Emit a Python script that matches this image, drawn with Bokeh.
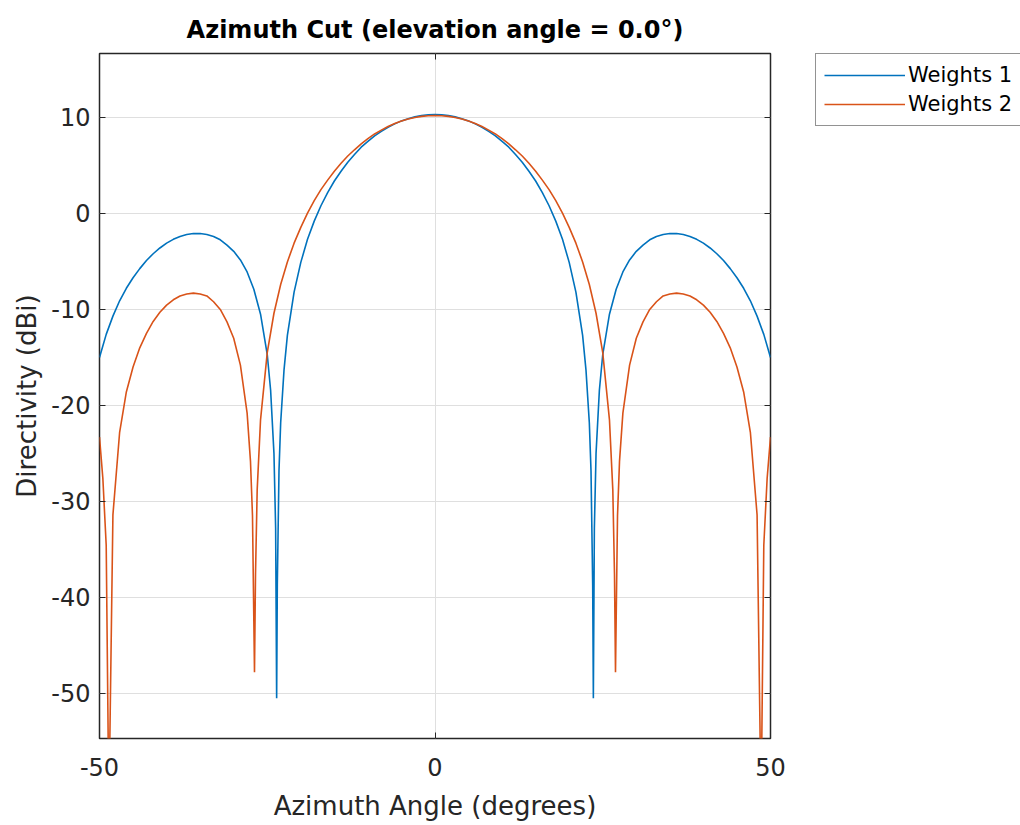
from bokeh.plotting import figure
from bokeh.layouts import row
from bokeh.models import (Range1d, FixedTicker, LinearAxis, Legend, LegendItem,
                          PrintfTickFormatter)
from bokeh.embed import file_html
from bokeh.resources import INLINE

# ---------------- data ----------------
title_text = "Azimuth Cut (elevation angle = 0.0°)"
x_label = "Azimuth Angle (degrees)"
y_label = "Directivity (dBi)"
series_names = ["Weights 1", "Weights 2"]
x_ticks = [-50, 0, 50]
y_ticks = [-50, -40, -30, -20, -10, 0, 10]

az_w1 = [-50, -49, -48, -47, -46, -45, -44, -43, -42, -41, -40, -39, -38, -37, -36, -35,
         -34, -33, -32, -31, -30, -29, -28, -27, -26, -25, -24.5, -24, -23.75, -23.6, -23.5,
         -23.25, -23, -22.5, -22, -21, -20, -19, -18, -17, -16, -15, -14, -13, -12, -11, -10,
         -9, -8, -7, -6, -5, -4, -3, -2, -1, 0,
         1, 2, 3, 4, 5, 6, 7, 8, 9, 10, 11, 12, 13, 14, 15, 16, 17, 18, 19, 20, 21, 22, 22.5,
         23, 23.25, 23.5, 23.6, 23.75, 24, 24.5, 25, 26, 27, 28, 29, 30, 31, 32, 33, 34, 35,
         36, 37, 38, 39, 40, 41, 42, 43, 44, 45, 46, 47, 48, 49, 50]
dir_w1 = [-15.0, -12.6, -10.7, -9.1, -7.8, -6.7, -5.75, -4.9, -4.2, -3.6, -3.1, -2.7, -2.4,
          -2.2, -2.1, -2.1, -2.2, -2.4, -2.75, -3.3, -3.95, -4.85, -6.1, -7.9, -10.5, -14.7,
          -18.4, -25.0, -32.8, -50.5, -38.7, -26.8, -21.8, -16.3, -12.7, -8.2, -5.1, -2.7,
          -0.8, 0.8, 2.16, 3.38, 4.4, 5.34, 6.14, 6.9, 7.5, 8.08, 8.55, 8.98, 9.33, 9.64,
          9.87, 10.06, 10.2, 10.27, 10.3,
          10.27, 10.2, 10.06, 9.87, 9.64, 9.33, 8.98, 8.55, 8.08, 7.5, 6.9, 6.14, 5.34, 4.4,
          3.38, 2.16, 0.8, -0.8, -2.7, -5.1, -8.2, -12.7, -16.3, -21.8, -26.8, -38.7, -50.5,
          -32.8, -25.0, -18.4, -14.7, -10.5, -7.9, -6.1, -4.85, -3.95, -3.3, -2.75, -2.4, -2.2,
          -2.1, -2.1, -2.2, -2.4, -2.7, -3.1, -3.6, -4.2, -4.9, -5.75, -6.7, -7.8, -9.1, -10.7,
          -12.6, -15.0]

az_w2 = [-50, -49.5, -49, -48.6, -48, -47, -46, -45, -44, -43, -42, -41, -40, -39, -38, -37,
         -36, -35, -34, -33, -32, -31, -30, -29, -28, -27.5, -27.2, -26.9, -26.75, -26.5, -26,
         -25, -24, -23, -22, -21, -20, -19, -18, -17, -16, -15, -14, -13, -12, -11, -10, -9,
         -8, -7, -6, -5, -4, -3, -2, -1, 0,
         1, 2, 3, 4, 5, 6, 7, 8, 9, 10, 11, 12, 13, 14, 15, 16, 17, 18, 19, 20, 21, 22, 23,
         24, 25, 26, 26.5, 26.75, 26.9, 27.2, 27.5, 28, 29, 30, 31, 32, 33, 34, 35, 36, 37,
         38, 39, 40, 41, 42, 43, 44, 45, 46, 47, 48, 48.6, 49, 49.5, 50]
dir_w2 = [-23.3, -27.6, -34.6, -62, -31.4, -22.8, -18.6, -16.0, -14.0, -12.5, -11.25, -10.3,
          -9.55, -9.0, -8.6, -8.4, -8.3, -8.4, -8.6, -9.2, -10.0, -11.3, -13.0, -15.8, -20.8,
          -25.8, -31.5, -47.8, -37.6, -28.8, -21.5, -14.5, -10.4, -7.4, -5.05, -3.1, -1.45,
          0.04, 1.33, 2.48, 3.47, 4.4, 5.22, 5.98, 6.63, 7.25, 7.8, 8.28, 8.68, 9.05, 9.36,
          9.62, 9.83, 9.99, 10.11, 10.18, 10.2,
          10.18, 10.11, 9.99, 9.83, 9.62, 9.36, 9.05, 8.68, 8.28, 7.8, 7.25, 6.63, 5.98, 5.22,
          4.4, 3.47, 2.48, 1.33, 0.04, -1.45, -3.1, -5.05, -7.4, -10.4, -14.5, -21.5, -28.8,
          -37.6, -47.8, -31.5, -25.8, -20.8, -15.8, -13.0, -11.3, -10.0, -9.2, -8.6, -8.4,
          -8.3, -8.4, -8.6, -9.0, -9.55, -10.3, -11.25, -12.5, -14.0, -16.0, -18.6, -22.8,
          -31.4, -62, -34.6, -27.6, -23.3]

# ---------------- styling ----------------
FONT = "DejaVu Sans"
TXT = "#262626"
BLUE = "#0072BD"
ORANGE = "#D95319"
W_MAIN = 815
W_LEG = 1020 - W_MAIN
H = 825

p = figure(width=W_MAIN, height=H, output_backend="svg", toolbar_location=None,
           x_range=Range1d(-50, 50), y_range=Range1d(-54.7, 16.66),
           min_border_left=99, min_border_right=45, min_border_top=53,
           min_border_bottom=87, background_fill_color="white",
           border_fill_color="white")

p.title.text = title_text
p.title.align = "center"
p.title.text_font = FONT
p.title.text_font_size = "24px"
p.title.text_font_style = "bold"
p.title.text_color = "#000000"
p.title.standoff = 19

p.outline_line_color = TXT
p.outline_line_width = 1.5

def style_axis(ax):
    ax.axis_line_color = None
    ax.major_tick_in = 6
    ax.major_tick_out = 0
    ax.minor_tick_line_color = None
    ax.major_tick_line_color = TXT
    ax.major_tick_line_width = 1
    ax.major_label_text_font = FONT
    ax.major_label_text_font_size = "24px"
    ax.major_label_text_color = TXT
    ax.axis_label_text_font = FONT
    ax.axis_label_text_font_size = "26px"
    ax.axis_label_text_font_style = "normal"
    ax.axis_label_text_color = TXT

p.xaxis.ticker = FixedTicker(ticks=x_ticks)
p.yaxis.ticker = FixedTicker(ticks=y_ticks)
p.xaxis.formatter = PrintfTickFormatter(format="%d")
p.yaxis.formatter = PrintfTickFormatter(format="%d")
p.xaxis.axis_label = x_label
p.yaxis.axis_label = y_label
style_axis(p.xaxis[0])
style_axis(p.yaxis[0])
p.xaxis.major_label_standoff = 19
p.xaxis.axis_label_standoff = 12
p.yaxis.major_label_standoff = 9
p.yaxis.axis_label_standoff = 6

top_ax = LinearAxis(ticker=FixedTicker(ticks=x_ticks),
                    major_label_overrides={t: "" for t in x_ticks})
right_ax = LinearAxis(ticker=FixedTicker(ticks=y_ticks),
                      major_label_overrides={t: "" for t in y_ticks})
for ax in (top_ax, right_ax):
    style_axis(ax)
    ax.major_label_standoff = 0
p.add_layout(top_ax, "above")
p.add_layout(right_ax, "right")

p.xgrid.ticker = FixedTicker(ticks=x_ticks)
p.ygrid.ticker = FixedTicker(ticks=y_ticks)
p.grid.grid_line_color = "#dfdfdf"
p.grid.grid_line_width = 1

p.line(az_w1, dir_w1, line_color=BLUE, line_width=1.6)
p.line(az_w2, dir_w2, line_color=ORANGE, line_width=1.6)

# ---- legend panel (outside the axes, to the right, as in the reference) ----
# the same series are attached here only to carry the legend glyphs; the
# panel's ranges lie outside the data so nothing is drawn in it
pl = figure(width=W_LEG, height=H, output_backend="svg", toolbar_location=None,
            x_range=Range1d(1000, 1001), y_range=Range1d(1000, 1001),
            min_border_left=0, min_border_right=0, min_border_bottom=0,
            min_border_top=53, outline_line_color=None,
            background_fill_color="white", border_fill_color="white")
pl.axis.visible = False
pl.grid.visible = False
k1 = pl.line(az_w1, dir_w1, line_color=BLUE, line_width=1.6)
k2 = pl.line(az_w2, dir_w2, line_color=ORANGE, line_width=1.6)

legend = Legend(items=[LegendItem(label=series_names[0], renderers=[k1]),
                       LegendItem(label=series_names[1], renderers=[k2])],
                location="top_left", orientation="vertical")
legend.border_line_color = TXT
legend.border_line_width = 1.5
legend.background_fill_color = "white"
legend.background_fill_alpha = 1
legend.label_text_font = FONT
legend.label_text_font_size = "21px"
legend.label_text_color = "#000000"
legend.padding = 8
legend.spacing = 3
legend.margin = 0
legend.glyph_width = 81
legend.glyph_height = 26
legend.label_height = 26
legend.label_standoff = 3
pl.add_layout(legend, "center")

layout = row(p, pl, spacing=0)

with open("out.html", "w") as f:
    f.write(file_html(layout, INLINE))
